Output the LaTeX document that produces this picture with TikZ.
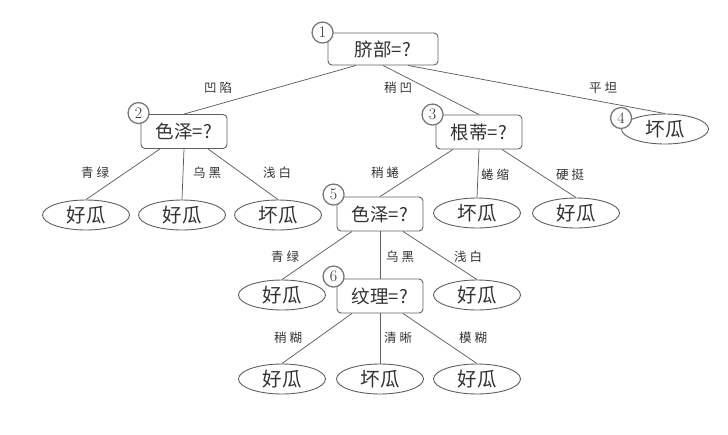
\documentclass[tikz,border=0pt]{standalone}
\usepackage{fontspec}
\newfontfamily\cjk{Noto Sans CJK SC}
\usetikzlibrary{shapes.geometric,calc}
\definecolor{linec}{RGB}{95,95,95}
\definecolor{textc}{RGB}{50,50,50}
\definecolor{numc}{RGB}{120,120,120}
\newcommand{\lsp}{\kern3pt}
\tikzset{
  test/.style={draw=linec, rounded corners=4pt, minimum width=86pt, minimum height=34pt,
    inner sep=0pt, line width=0.9pt, text=textc, font=\cjk\fontsize{18.5}{18.5}\selectfont},
  leaf/.style={draw=linec, ellipse, minimum width=87pt, minimum height=30pt, inner sep=0pt,
    line width=0.9pt, text=textc, font=\cjk\fontsize{19.5}{19.5}\selectfont},
  num/.style={circle, draw=numc, fill=white, line width=1.3pt, minimum size=21pt, inner sep=0pt,
    text=textc, font=\fontsize{16}{16}\selectfont},
  lab/.style={text=textc, inner sep=0pt, font=\cjk\fontsize{12.5}{12.5}\selectfont},
  edge/.style={draw=linec, line width=0.75pt}
}
\begin{document}
\begin{tikzpicture}[x=1pt,y=-1pt]
\useasboundingbox (0,0) rectangle (728,434);
% internal nodes
\node[test, minimum width=110pt, minimum height=32pt] (root) at (383,49) {脐部=?};
\node[test] (n2) at (184,131.5) {色泽=?};
\node[test] (n3) at (479,132) {根蒂=?};
\node[test] (n5) at (380,214) {色泽=?};
\node[test] (n6) at (380,296) {纹理=?};
% leaves
\node[leaf] (n4) at (665,129) {坏瓜};
\node[leaf] (l21) at (86,215) {好瓜};
\node[leaf] (l22) at (182,215) {好瓜};
\node[leaf] (l23) at (278,215) {坏瓜};
\node[leaf] (l31) at (477,213) {坏瓜};
\node[leaf] (l32) at (576,213) {好瓜};
\node[leaf] (l51) at (282,295) {好瓜};
\node[leaf] (l53) at (477,295) {好瓜};
\node[leaf] (l61) at (282,379) {好瓜};
\node[leaf] (l62) at (380,379) {坏瓜};
\node[leaf] (l63) at (477,379) {好瓜};
% edges
\draw[edge] ($(root.south)+(-27,0)$) -- (n2.north);
\draw[edge] (root.south) -- (n3.north);
\draw[edge] ($(root.south)+(25,0)$) -- (n4.north);
\draw[edge] ($(n2.south)+(-24,0)$) -- (l21.north);
\draw[edge] (n2.south) -- (l22.north);
\draw[edge] ($(n2.south)+(24,0)$) -- (l23.north);
\draw[edge] ($(n3.south)+(-26,0)$) -- (n5.north);
\draw[edge] (n3.south) -- (l31.north);
\draw[edge] ($(n3.south)+(23,0)$) -- (l32.north);
\draw[edge] ($(n5.south)+(-28,0)$) -- (l51.north);
\draw[edge] (n5.south) -- (n6.north);
\draw[edge] ($(n5.south)+(23,0)$) -- (l53.north);
\draw[edge] ($(n6.south)+(-28,0)$) -- (l61.north);
\draw[edge] (n6.south) -- (l62.north);
\draw[edge] ($(n6.south)+(23,0)$) -- (l63.north);
% edge labels
\node[lab] (e1) at (218,88) {凹\lsp 陷};
\node[lab] (e2) at (398,88) {稍\lsp 凹};
\node[lab] (e3) at (603,88) {平\lsp 坦};
\node[lab] (e4) at (95,173) {青\lsp 绿};
\node[lab] (e5) at (207,173) {乌\lsp 黑};
\node[lab] (e6) at (277,173) {浅\lsp 白};
\node[lab] (e7) at (385,173) {稍\lsp 蜷};
\node[lab] (e8) at (495,175) {蜷\lsp 缩};
\node[lab] (e9) at (570,175) {硬\lsp 挺};
\node[lab] (e10) at (285,257) {青\lsp 绿};
\node[lab] (e11) at (400,257) {乌\lsp 黑};
\node[lab] (e12) at (468,257) {浅\lsp 白};
\node[lab] (e13) at (288,338) {稍\lsp 糊};
\node[lab] (e14) at (398,338) {清\lsp 晰};
\node[lab] (e15) at (473,338) {模\lsp 糊};
% number circles
\node[num] (c1) at ($(root.north west)+(-5,0)$) {1};
\node[num] (c2) at ($(n2.north west)+(-2,-1)$) {2};
\node[num] (c3) at ($(n3.north west)+(-3,0)$) {3};
\node[num] (c4) at ($(n4.west)+(0,-11)$) {4};
\node[num] (c5) at ($(n5.north west)+(-3,-2)$) {5};
\node[num] (c6) at ($(n6.north west)+(-3,-2)$) {6};
\end{tikzpicture}
\end{document}
